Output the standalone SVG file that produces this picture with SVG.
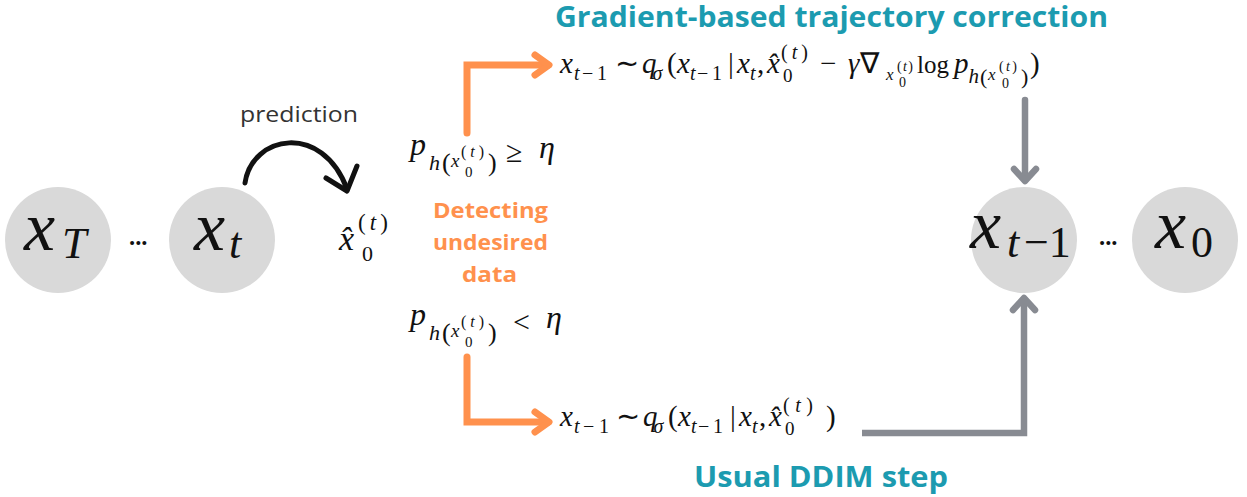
<svg xmlns="http://www.w3.org/2000/svg" width="1247" height="497" viewBox="0 0 1247 497">
<style>
.mi{font-family:"Liberation Serif",serif;font-style:italic;fill:#111}
.mr{font-family:"Liberation Serif",serif;fill:#111}
.node{fill:#d9d9d9}
.title{font-family:"Open Sans",Lato,sans-serif;font-weight:bold;fill:#1c9bb0;font-size:28px}
.orange{font-family:"Open Sans",Lato,sans-serif;font-weight:bold;fill:#ff914d;font-size:21px}
.dots{font-family:Lato,sans-serif;font-weight:bold;fill:#111;font-size:26px}
.or{fill:none;stroke:#ff914d;stroke-width:7;stroke-linecap:round;stroke-linejoin:miter}
.gr{fill:none;stroke:#888b92;stroke-width:6.5;stroke-linecap:round}
.bk{fill:none;stroke:#111;stroke-width:5;stroke-linecap:round;stroke-linejoin:round}
</style>
<rect width="1247" height="497" fill="#fff"/>
<text class="title" x="555" y="27" textLength="553" lengthAdjust="spacingAndGlyphs">Gradient-based trajectory correction</text>
<text class="title" x="694" y="487" textLength="254" lengthAdjust="spacingAndGlyphs">Usual DDIM step</text>

<g id="node-xT">
<circle class="node" cx="58" cy="240" r="53"/>
<text class="mi" x="24" y="250" font-size="70">x</text>
<text class="mi" x="62" y="258" font-size="44">T</text>
</g>
<text class="dots" x="129" y="245">...</text>
<g id="node-xt">
<circle class="node" cx="222" cy="240" r="53"/>
<text class="mi" x="194" y="250" font-size="70">x</text>
<text class="mi" x="229" y="258" font-size="44">t</text>
</g>
<g id="node-x0hat">
<text class="mi" x="339" y="250" font-size="34">x&#x302;</text>
<text class="mr" x="358" y="230" font-size="23" textLength="30" lengthAdjust="spacing">(<tspan class="mi">t</tspan>)</text>
<text class="mr" x="362" y="261" font-size="22">0</text>
</g>
<g id="node-xt1">
<circle class="node" cx="1024" cy="240" r="53"/>
<text class="mi" x="970" y="248" font-size="70">x</text>
<text class="mi" x="1007" y="257" font-size="44">t</text>
<text class="mr" x="1024" y="257" font-size="44">−1</text>
</g>
<text class="dots" x="1099" y="245">...</text>
<g id="node-x0">
<circle class="node" cx="1185" cy="240" r="53"/>
<text class="mi" x="1155" y="248" font-size="70">x</text>
<text class="mr" x="1191" y="257" font-size="44">0</text>
</g>

<g id="cond-ge">
<text class="mi" x="410" y="155" font-size="32">p</text>
<text class="mi" x="429" y="170" font-size="22">h</text>
<text class="mr" x="442" y="171" font-size="26">(</text>
<text class="mi" x="451" y="167" font-size="19">x</text>
<text class="mr" x="461" y="157" font-size="16" textLength="23" lengthAdjust="spacing">(<tspan class="mi">t</tspan>)</text>
<text class="mr" x="465" y="177" font-size="15">0</text>
<text class="mr" x="488" y="171" font-size="26">)</text>
<text class="mr" x="506" y="162" font-size="30">≥</text>
<text class="mi" x="539" y="158" font-size="32">η</text>
</g>
<g id="detect">
<text class="orange" x="433" y="218" textLength="115" lengthAdjust="spacingAndGlyphs">Detecting</text>
<text class="orange" x="433" y="250" textLength="115" lengthAdjust="spacingAndGlyphs">undesired</text>
<text class="orange" x="462" y="282" textLength="55" lengthAdjust="spacingAndGlyphs">data</text>
</g>
<g id="cond-lt">
<text class="mi" x="410" y="325" font-size="32">p</text>
<text class="mi" x="429" y="340" font-size="22">h</text>
<text class="mr" x="442" y="341" font-size="26">(</text>
<text class="mi" x="451" y="337" font-size="19">x</text>
<text class="mr" x="461" y="327" font-size="16" textLength="23" lengthAdjust="spacing">(<tspan class="mi">t</tspan>)</text>
<text class="mr" x="465" y="347" font-size="15">0</text>
<text class="mr" x="488" y="341" font-size="26">)</text>
<text class="mr" x="513" y="332" font-size="30">&lt;</text>
<text class="mi" x="546" y="328" font-size="32">η</text>
</g>

<g id="formula-top">
<text class="mi" x="560" y="73" font-size="29">x</text>
<text class="mi" x="574" y="80" font-size="20">t</text>
<text class="mr" x="582" y="80" font-size="20">−</text>
<text class="mr" x="597" y="80" font-size="20">1</text>
<text class="mr" x="615" y="73" font-size="29">∼</text>
<text class="mi" x="642" y="73" font-size="29">q<tspan dx="-4" dy="7" font-size="20">σ</tspan></text>
<text class="mr" x="667" y="73" font-size="29">(</text>
<text class="mi" x="677" y="73" font-size="29">x</text>
<text class="mi" x="690" y="80" font-size="20">t</text>
<text class="mr" x="697" y="80" font-size="20">−</text>
<text class="mr" x="712" y="80" font-size="20">1</text>
<text class="mr" x="728" y="73" font-size="29">|</text>
<text class="mi" x="737" y="73" font-size="29">x</text>
<text class="mi" x="750" y="80" font-size="20">t</text>
<text class="mr" x="757" y="73" font-size="29">,</text>
<text class="mi" x="767" y="73" font-size="29">x&#x302;</text>
<text class="mr" x="781" y="59" font-size="20" textLength="27" lengthAdjust="spacing">(<tspan class="mi">t</tspan>)</text>
<text class="mr" x="783" y="82" font-size="19">0</text>
<text class="mr" x="820" y="73" font-size="29">−</text>
<text class="mi" x="848" y="73" font-size="29">γ</text>
<text class="mr" x="860" y="73" font-size="29">∇</text>
<text class="mi" x="886" y="80" font-size="17">x</text>
<text class="mr" x="897" y="71" font-size="14" textLength="16" lengthAdjust="spacing">(<tspan class="mi">t</tspan>)</text>
<text class="mr" x="899" y="87" font-size="14">0</text>
<text class="mr" x="917" y="73" font-size="25">log</text>
<text class="mi" x="954" y="73" font-size="29">p<tspan dy="10" font-size="21">h</tspan></text>
<text class="mr" x="980" y="84" font-size="22">(</text>
<text class="mi" x="988" y="80" font-size="17">x</text>
<text class="mr" x="999" y="71" font-size="14" textLength="18" lengthAdjust="spacing">(<tspan class="mi">t</tspan>)</text>
<text class="mr" x="1002" y="88" font-size="14">0</text>
<text class="mr" x="1021" y="84" font-size="22">)</text>
<text class="mr" x="1030" y="73" font-size="29">)</text>
</g>

<g id="formula-bottom">
<text class="mi" x="560" y="426" font-size="29">x</text>
<text class="mi" x="574" y="433" font-size="20">t</text>
<text class="mr" x="583" y="433" font-size="20">−</text>
<text class="mr" x="599" y="433" font-size="20">1</text>
<text class="mr" x="616" y="426" font-size="29">∼</text>
<text class="mi" x="643" y="426" font-size="29">q<tspan dx="-4" dy="7" font-size="20">σ</tspan></text>
<text class="mr" x="668" y="426" font-size="29">(</text>
<text class="mi" x="678" y="426" font-size="29">x</text>
<text class="mi" x="691" y="433" font-size="20">t</text>
<text class="mr" x="698" y="433" font-size="20">−</text>
<text class="mr" x="713" y="433" font-size="20">1</text>
<text class="mr" x="730" y="426" font-size="29">|</text>
<text class="mi" x="739" y="426" font-size="29">x</text>
<text class="mi" x="752" y="433" font-size="20">t</text>
<text class="mr" x="759" y="426" font-size="29">,</text>
<text class="mi" x="769" y="426" font-size="29">x&#x302;</text>
<text class="mr" x="783" y="412" font-size="20" textLength="30" lengthAdjust="spacing">(<tspan class="mi">t</tspan>)</text>
<text class="mr" x="785" y="435" font-size="19">0</text>
<text class="mr" x="826" y="426" font-size="29">)</text>
</g>

<g id="connectors">
<path class="bk" d="M245,183 C252,135 322,122 347,189"/>
<polyline class="bk" points="326,178 347,191 357,166"/>
<text x="240" y="122" font-family="'Open Sans',Lato,sans-serif" font-size="22" fill="#333" textLength="118" lengthAdjust="spacingAndGlyphs">prediction</text>
<polyline class="or" points="467,133 467,65 548,65"/>
<polyline class="or" points="535,55 549,65 535,75" style="stroke-linejoin:round"/>
<polyline class="or" points="467,357 467,422 548,422"/>
<polyline class="or" points="535,412 549,422 535,432" style="stroke-linejoin:round"/>
<line class="gr" x1="1025" y1="100" x2="1025" y2="180"/>
<polyline class="gr" points="1014,169 1025,181 1036,169" style="stroke-linejoin:round"/>
<polyline class="gr" points="862,433 1024,433 1024,299" style="stroke-linecap:butt"/>
<polyline class="gr" points="1013,310 1024,298 1035,310" style="stroke-linejoin:round"/>
</g>
</svg>
